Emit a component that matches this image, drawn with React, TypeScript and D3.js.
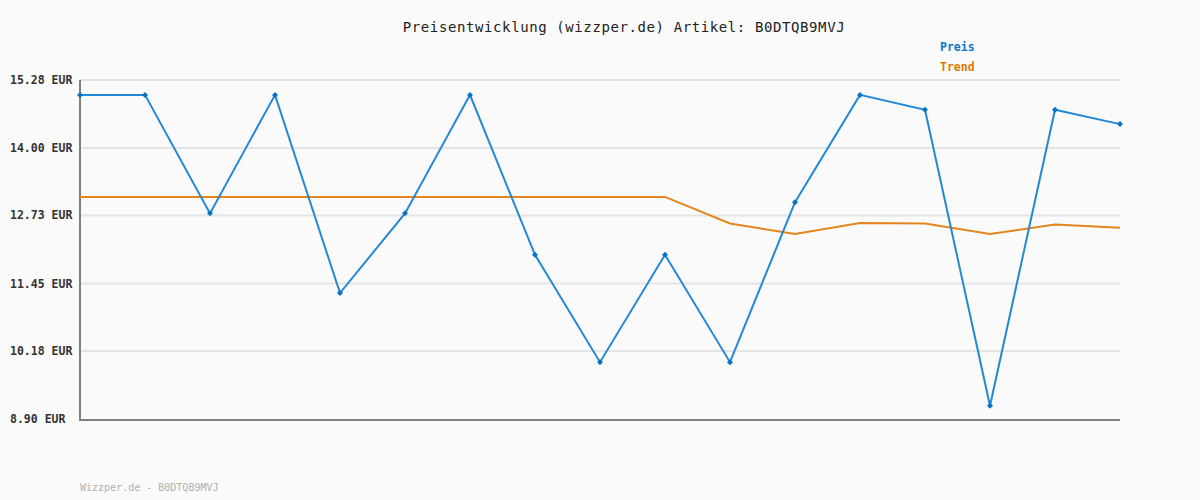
import React from 'react';
import * as d3 from 'd3';

// Preisverlauf
const preis = [15.0, 15.0, 12.77, 15.0, 11.27, 12.77, 15.0, 11.99, 9.97, 11.99, 9.97, 12.98, 15.0, 14.72, 9.15, 14.72, 14.45];
const trend = [13.08, 13.08, 13.08, 13.08, 13.08, 13.08, 13.08, 13.08, 13.08, 13.08, 12.58, 12.38, 12.59, 12.58, 12.38, 12.56, 12.5];
const yTicks = [8.9, 10.18, 11.45, 12.73, 14.0, 15.28];
const artikel = 'B0DTQB9MVJ';

const W = 1200;
const H = 500;
const left = 80;
const right = 1120;
const top = 80;
const bottom = 419;
const mono = '"DejaVu Sans Mono", "Liberation Mono", monospace';

const App = () => {
  const x = d3.scaleLinear().domain([0, preis.length - 1]).range([left, right]);
  const y = d3.scaleLinear().domain([8.9, 15.28]).range([bottom, top]);

  const line = d3
    .line<number>()
    .x((d, i) => x(i))
    .y((d) => y(d));

  return (
    <svg
      width={W}
      height={H}
      style={{ position: 'absolute', left: 0, top: 0, background: '#fafafa' }}
    >
      <rect width={W} height={H} fill="#fafafa" />
      <text x={624} y={32} textAnchor="middle" fontFamily={mono} fontSize={14} letterSpacing={0.6} fill="#222">
        Preisentwicklung (wizzper.de) Artikel: {artikel}
      </text>

      {/* Gitter */}
      {yTicks.slice(1).map((t) => (
        <line key={t} x1={left} x2={right} y1={y(t)} y2={y(t)} stroke="#e4e4e4" strokeWidth={2} />
      ))}
      {yTicks.map((t) => (
        <text key={'l' + t} x={10} y={y(t) + 4} fontFamily={mono} fontSize={11.5} fontWeight="bold" fill="#333">
          {t.toFixed(2)} EUR
        </text>
      ))}

      {/* Achsen */}
      <line x1={left} x2={left} y1={top} y2={bottom + 1} stroke="#808080" strokeWidth={2} />
      <line x1={left - 1} x2={right} y1={bottom + 1} y2={bottom + 1} stroke="#808080" strokeWidth={2} />

      <path d={line(trend) ?? ''} fill="none" stroke="#e2861c" strokeWidth={2} />
      <path d={line(preis) ?? ''} fill="none" stroke="#2388d6" strokeWidth={2} />
      {preis.map((d, i) => (
        <path
          key={i}
          d={`M${x(i)},${y(d) - 3}L${x(i) + 3},${y(d)}L${x(i)},${y(d) + 3}L${x(i) - 3},${y(d)}Z`}
          fill="#0a72c4"
        />
      ))}

      {/* Legende */}
      <text x={940} y={51} fontFamily={mono} fontSize={11.5} fontWeight="bold" fill="#0a78c8">
        Preis
      </text>
      <text x={940} y={71} fontFamily={mono} fontSize={11.5} fontWeight="bold" fill="#dd7a00">
        Trend
      </text>

      <text x={80} y={491} fontFamily={mono} fontSize={10} fill="#b0b0b0">
        Wizzper.de - {artikel}
      </text>
    </svg>
  );
};

export default App;
